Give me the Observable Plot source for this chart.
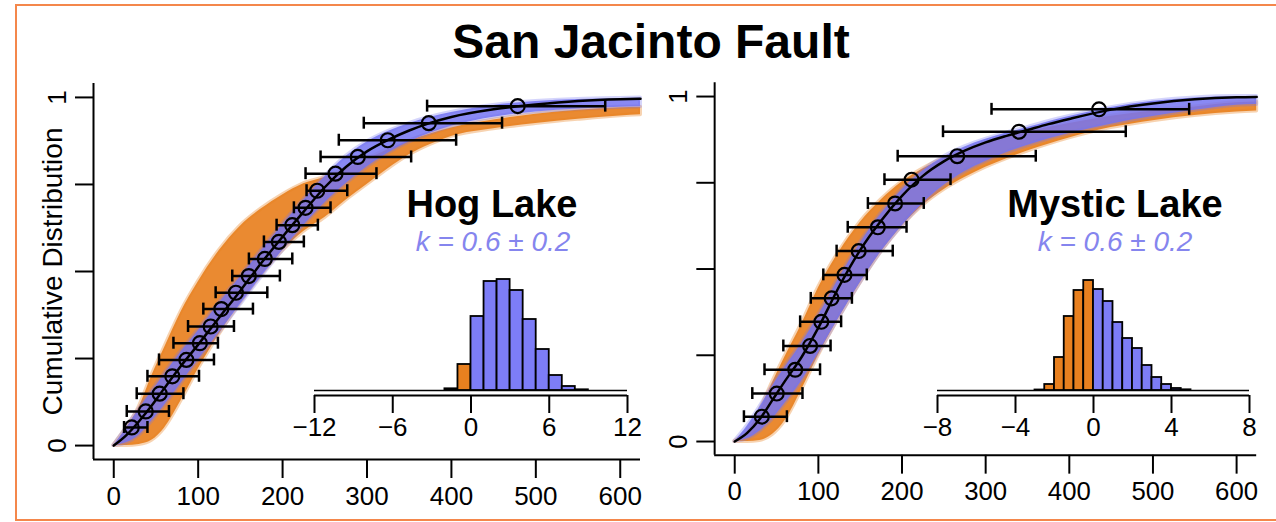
<!DOCTYPE html>
<html><head><meta charset="utf-8">
<script src="https://cdn.jsdelivr.net/npm/d3@7"></script>
<script src="https://cdn.jsdelivr.net/npm/@observablehq/plot@0.6"></script>
<style>
body{margin:0;background:#fff;font-family:"Liberation Sans",Arial,sans-serif;}
#wrap{position:relative;width:1276px;height:522px;overflow:hidden;background:#fff;}
#border{position:absolute;left:15px;top:4px;width:1300px;height:517px;border:2px solid #f4874b;box-sizing:border-box;}
.abs{position:absolute;}
#title{position:absolute;left:0;width:1302px;top:14px;text-align:center;font-weight:bold;font-size:48px;}
.site{position:absolute;width:300px;text-align:center;font-weight:bold;font-size:38px;}
.kval{position:absolute;width:300px;text-align:center;font-style:italic;font-size:28px;color:#8585ee;}
</style></head>
<body>
<div id="wrap">
  <div id="border"></div>
  <div id="title">San Jacinto Fault</div>
  <div id="left" class="abs" style="left:0;top:0"></div>
  <div id="right" class="abs" style="left:622px;top:0"></div>
  <div id="hleft" class="abs" style="left:300px;top:250px"></div>
  <div id="hright" class="abs" style="left:923px;top:250px"></div>
  <div class="site" style="left:342px;top:183px">Hog Lake</div>
  <div class="kval" style="left:343px;top:226px">k = 0.6 ± 0.2</div>
  <div class="site" style="left:965px;top:183px">Mystic Lake</div>
  <div class="kval" style="left:965px;top:226px">k = 0.6 ± 0.2</div>
</div>
<script>
// ---------- shared ----------
const xTicks = [0, 100, 200, 300, 400, 500, 600];
const yTicks = [0, 0.25, 0.5, 0.75, 1];
const yLabels = [0, 1];
const grid = [0,15,30,45,60,80,100,125,150,175,200,225,250,275,300,325,350,375,400,450,500,550,600,624];

// ---------- Hog Lake ----------
const hogFit      = [0,0.03,0.07,0.115,0.165,0.23,0.29,0.368,0.445,0.525,0.6,0.672,0.742,0.8,0.845,0.878,0.905,0.927,0.944,0.966,0.98,0.99,0.995,0.996];
const hogBlueHi   = [0,0.05,0.105,0.155,0.205,0.27,0.33,0.41,0.485,0.56,0.635,0.705,0.772,0.83,0.872,0.902,0.925,0.943,0.957,0.977,0.988,0.994,0.997,0.998];
const hogBlueLo   = [0,0.008,0.03,0.07,0.115,0.18,0.245,0.325,0.405,0.485,0.56,0.632,0.697,0.752,0.8,0.84,0.872,0.897,0.917,0.943,0.958,0.967,0.972,0.973];
const hogOrangeHi = [0,0.05,0.11,0.2,0.28,0.385,0.47,0.56,0.63,0.68,0.72,0.752,0.77,0.795,0.822,0.85,0.875,0.895,0.912,0.935,0.952,0.963,0.97,0.972];
const hogOrangeLo = [0,0,0.003,0.015,0.05,0.13,0.22,0.32,0.41,0.49,0.56,0.615,0.655,0.705,0.75,0.795,0.835,0.865,0.888,0.91,0.925,0.937,0.947,0.95];
const hogPtX  = [21.3,37.9,54.4,69.4,86,102,114.8,127.4,144.7,160,179,195.6,211.5,227.2,241,262.7,289.1,324.6,373.2,478.5];
const hogPtP  = [0.052,0.098,0.149,0.199,0.246,0.294,0.342,0.392,0.439,0.487,0.536,0.585,0.633,0.683,0.732,0.781,0.829,0.877,0.926,0.975];
const hogErrLo = [12.2,15.4,27.2,39.9,53.6,70.7,88,106.1,120.7,140.4,160.1,177.9,192.9,213.4,228.4,227.2,245,266.6,296.2,371.2];
const hogErrHi = [39.9,65.4,82.5,101,118.7,123.4,142.4,164.9,181.9,196.8,211.5,225.2,241.8,256.8,276.6,311.2,352.3,405.6,460,582.2];
const hogHistEdges  = [-2,-1,0,1,2,3,4,5,6,7,8,9];
const hogHistCounts = [1.7,26,74,109,111,100,71,41,15,4,0.7];
const hogHistTicks  = [-12,-6,0,6,12];

// ---------- Mystic Lake ----------
const myFit      = [0,0.025,0.065,0.12,0.175,0.245,0.33,0.45,0.555,0.64,0.712,0.77,0.812,0.843,0.867,0.886,0.903,0.92,0.935,0.962,0.98,0.992,0.998,0.999];
const myBlueHi   = [0,0.045,0.1,0.16,0.215,0.285,0.365,0.475,0.575,0.66,0.73,0.785,0.825,0.854,0.876,0.894,0.91,0.927,0.942,0.968,0.986,0.996,1.0,1.0];
const myBlueLo   = [0,0.008,0.03,0.065,0.11,0.175,0.255,0.36,0.46,0.55,0.625,0.69,0.742,0.782,0.812,0.837,0.858,0.877,0.893,0.92,0.942,0.96,0.975,0.977];
const myOrangeHi = [0,0.03,0.09,0.17,0.245,0.34,0.445,0.55,0.635,0.7,0.752,0.79,0.82,0.845,0.865,0.882,0.897,0.91,0.922,0.943,0.958,0.97,0.982,0.984];
const myOrangeLo = [0,0,0.003,0.02,0.06,0.15,0.25,0.36,0.46,0.55,0.625,0.685,0.73,0.765,0.795,0.82,0.842,0.862,0.88,0.91,0.93,0.945,0.955,0.958];
const myPtX  = [32.4,50.2,72.3,90.1,103.5,115.8,131.2,148.2,171.1,191.7,211.5,266,339.9,435.5];
const myPtP  = [0.072,0.139,0.208,0.277,0.347,0.415,0.483,0.552,0.621,0.69,0.759,0.827,0.898,0.963];
const myErrLo = [11,21,35.6,58.1,78.2,90.9,105.9,121.8,135.1,159.2,179,194.8,249,307];
const myErrHi = [62.4,81,102,114.6,127.2,140.1,157.9,188.9,205.4,226,258,359.9,467.5,543.3];
const myHistEdges  = [-3,-2.5,-2,-1.5,-1,-0.5,0,0.5,1,1.5,2,2.5,3,3.5,4,4.5,5];
const myHistCounts = [0.5,6,33,74,100,110,101,89,68,52,42,25,13,6,2,0.7];
const myHistTicks  = [-8,-4,0,4,8];

const ORANGE = "#e8801f";
const BLUE = "#7474f2";
const BAR_BLUE = "#7d7df7";
const FONT = "Liberation Sans, Arial, sans-serif";

function mainPanel(fit, bHi, bLo, oHi, oLo, ptX, ptP, eLo, eHi, withLabel) {
  const rows = grid.map((v, i) => ({v, fit: fit[i], bHi: bHi[i], bLo: bLo[i], oHi: oHi[i], oLo: oLo[i]}));
  const pts = ptX.map((x, i) => ({x, p: ptP[i], lo: eLo[i], hi: eHi[i]}));
  const marks = [
    Plot.areaY(rows, {x: "v", y1: "oLo", y2: "oHi", fill: ORANGE, fillOpacity: 0.92, stroke: ORANGE, strokeOpacity: 0.35, strokeWidth: 4, curve: "monotone-x"}),
    Plot.areaY(rows, {x: "v", y1: "bLo", y2: "bHi", fill: BLUE, fillOpacity: 0.85, stroke: BLUE, strokeOpacity: 0.3, strokeWidth: 4, curve: "monotone-x"}),
    Plot.lineY(rows, {x: "v", y: "fit", stroke: "black", strokeWidth: 2.5, curve: "monotone-x"}),
    Plot.link(pts, {x1: "lo", x2: "hi", y1: "p", y2: "p", stroke: "black", strokeWidth: 2.5}),
    Plot.ruleX(pts, {x: "lo", y1: "p", y2: "p", insetTop: -6, insetBottom: -6, stroke: "black", strokeWidth: 2.5}),
    Plot.ruleX(pts, {x: "hi", y1: "p", y2: "p", insetTop: -6, insetBottom: -6, stroke: "black", strokeWidth: 2.5}),
    Plot.dot(pts, {x: "x", y: "p", r: 7, stroke: "black", strokeWidth: 2.2, fill: "none"}),
    Plot.ruleY([-0.04], {stroke: "black", strokeWidth: 2}),
    Plot.ruleX([-24], {stroke: "black", strokeWidth: 2}),
    Plot.axisX({ticks: xTicks, tickSize: 19, tickPadding: 8, fontSize: 26, strokeWidth: 2, tickFormat: d => String(d)}),
    Plot.axisY({ticks: yTicks, tickSize: 18, strokeWidth: 2, tickFormat: () => ""}),
    Plot.text(yLabels, {y: d => d, text: d => String(d), frameAnchor: "left", textAnchor: "middle", dx: -36, rotate: -90, fontSize: 26})
  ];
  if (withLabel) marks.push(Plot.text(["Cumulative Distribution"], {frameAnchor: "left", textAnchor: "middle", dx: -40, rotate: -90, fontSize: 28}));
  return Plot.plot({
    width: 660, height: 522, marginLeft: 93, marginRight: 20, marginTop: 83, marginBottom: 63,
    x: {domain: [-24, 624]}, y: {domain: [-0.04, 1.04]},
    style: {fontFamily: FONT, color: "black", background: "transparent", overflow: "visible"},
    marks
  });
}

function inset(edges, counts, ticks, domain, mr) {
  const bins = counts.map((c, i) => ({x1: edges[i], x2: edges[i + 1], c}));
  return Plot.plot({
    width: 340, height: 210, marginLeft: 14, marginRight: mr, marginTop: 0, marginBottom: 65,
    x: {domain}, y: {domain: [0, 115], range: [140, 25], axis: null},
    style: {fontFamily: FONT, color: "black", background: "transparent", overflow: "visible"},
    marks: [
      Plot.ruleY([0], {stroke: "black", strokeWidth: 1.5}),
      Plot.rectY(bins, {x1: "x1", x2: "x2", y: "c", fill: d => d.x1 < 0 ? ORANGE : BAR_BLUE, stroke: "black", strokeWidth: 1.8}),
      Plot.ruleY([0], {dy: 5, stroke: "black", strokeWidth: 2}),
      Plot.axisX({ticks, tickSize: 18, tickPadding: 4, fontSize: 26, strokeWidth: 2})
    ]
  });
}

document.getElementById("left").append(mainPanel(hogFit, hogBlueHi, hogBlueLo, hogOrangeHi, hogOrangeLo, hogPtX, hogPtP, hogErrLo, hogErrHi, true));
document.getElementById("right").append(mainPanel(myFit, myBlueHi, myBlueLo, myOrangeHi, myOrangeLo, myPtX, myPtP, myErrLo, myErrHi, false));
document.getElementById("hleft").append(inset(hogHistEdges, hogHistCounts, hogHistTicks, [-12, 12], 13));
document.getElementById("hright").append(inset(myHistEdges, myHistCounts, myHistTicks, [-8, 8], 14));
</script>
</body></html>
